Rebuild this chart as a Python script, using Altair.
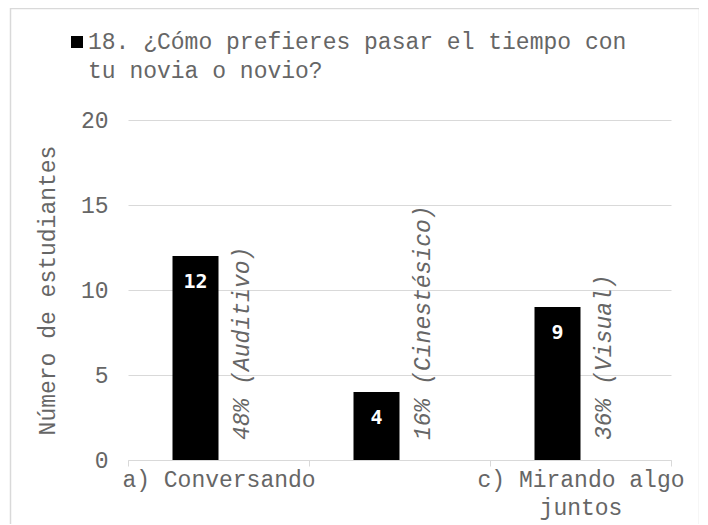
import altair as alt
import pandas as pd

# --- data ---
categorias = ["a) Conversando", "b)", "c) Mirando algo juntos"]
estudiantes = [12, 4, 9]
porcentajes = [48, 16, 36]
estilos = ["Auditivo", "Cinestésico", "Visual"]
titulo = ["18. ¿Cómo prefieres pasar el tiempo con", "tu novia o novio?"]
y_ticks = [0, 5, 10, 15, 20]

df = pd.DataFrame({"cat": categorias, "n": estudiantes, "pct": porcentajes, "estilo": estilos})
df["etiqueta"] = df["pct"].astype(str) + "% (" + df["estilo"] + ")"

FONT = "Liberation Mono"
GRAY = "#666666"
GRID = "#d9d9d9"
FS = 23

x_enc = alt.X(
    "cat:N", sort=categorias, title=None,
    scale=alt.Scale(paddingInner=0, paddingOuter=0),
    axis=alt.Axis(
        labelAngle=0, tickBand="extent", ticks=True, tickSize=6, tickColor=GRID,
        domainColor=GRID, labelFont=FONT, labelFontSize=FS, labelColor=GRAY,
        labelPadding=2, labelLimit=400, labelLineHeight=28, grid=False,
        labelExpr="datum.label == 'b)' ? '' : (datum.label == 'c) Mirando algo juntos' ? ['c) Mirando algo', 'juntos'] : datum.label)",
    ),
)
y_enc = alt.Y(
    "n:Q", title="Número de estudiantes",
    scale=alt.Scale(domain=[0, 20]),
    axis=alt.Axis(
        values=y_ticks, ticks=False, domain=False, gridColor=GRID,
        labelFont=FONT, labelFontSize=FS, labelColor=GRAY, labelPadding=20,
        titleFont=FONT, titleFontSize=FS, titleFontWeight="normal", titleColor=GRAY,
        titlePadding=21,
    ),
)

base = alt.Chart(df)

bars = base.mark_bar(color="black", width=46, xOffset=-23).encode(x=x_enc, y=y_enc)

vals = base.mark_text(
    color="white", font="DejaVu Sans Mono", fontWeight="bold", fontSize=20,
    baseline="middle", align="center", xOffset=-23, yOffset=26,
).encode(x=x_enc, y=y_enc, text="n:Q")

pcts = base.mark_text(
    angle=270, align="left", baseline="middle", font=FONT, fontStyle="italic",
    fontSize=FS, color=GRAY, xOffset=23, yOffset=-20,
).encode(x=x_enc, y=alt.datum(0), text="etiqueta:N")

one = pd.DataFrame({"k": [0]})
frame = alt.Chart(one).mark_rect(fill="transparent", stroke=GRID, strokeWidth=1.5).encode(
    x=alt.value(-117.5), x2=alt.value(571.5), y=alt.value(-111.5), y2=alt.value(430)
)
square = alt.Chart(one).mark_square(color="black", size=144, opacity=1).encode(
    x=alt.value(-51), y=alt.value(-78)
)

chart = alt.layer(frame, bars, vals, pcts, square).properties(
    width=543, height=340,
    title=alt.Title(titulo, anchor="start", frame="group", font=FONT, fontSize=FS,
                    fontWeight="normal", color=GRAY, lineHeight=29, dx=-40,
                    baseline="top", offset=-75),
    padding={"left": 120, "top": 112, "right": 28, "bottom": 64},
    autosize=alt.AutoSizeParams(type="none"),
).configure_view(stroke=None)

chart.save("out.html", embed_options={"renderer": "svg", "actions": False})
